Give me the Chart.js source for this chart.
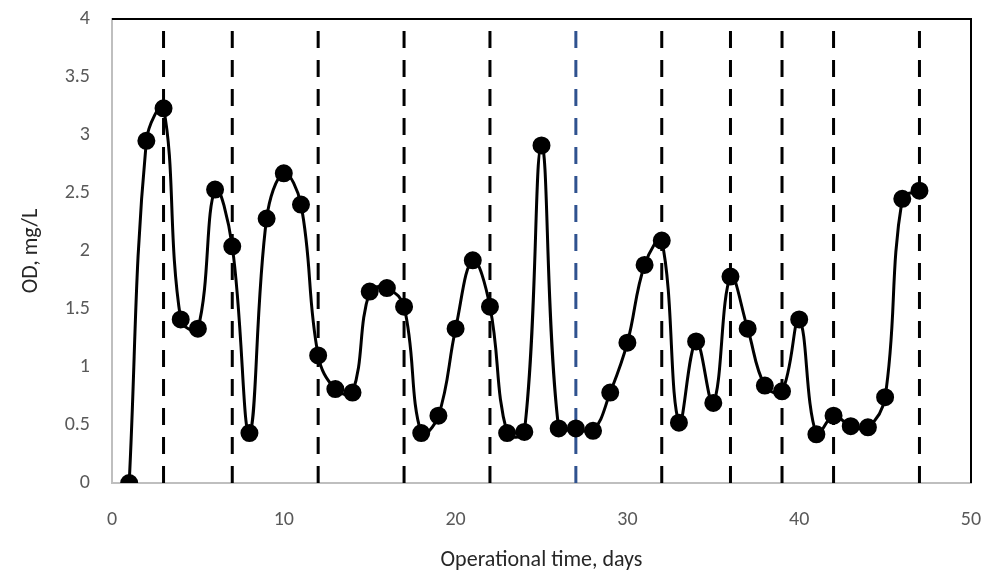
<!DOCTYPE html>
<html>
<head>
<meta charset="utf-8">
<script src="https://cdn.jsdelivr.net/npm/chart.js@4/dist/chart.umd.min.js"></script>
<style>
  html, body { margin: 0; padding: 0; background: #fff; }
  #wrap { width: 990px; height: 576px; }
</style>
</head>
<body>
<div id="wrap"><canvas id="odChart"></canvas></div>
<script>
// Data
const days = [1, 2, 3, 4, 5, 6, 7, 8, 9, 10, 11, 12, 13, 14, 15, 16, 17, 18, 19, 20, 21, 22, 23, 24,
    25, 26, 27, 28, 29, 30, 31, 32, 33, 34, 35, 36, 37, 38, 39, 40, 41, 42, 43, 44, 45, 46, 47];
const odValues = [0, 2.95, 3.23, 1.41, 1.33, 2.53, 2.04, 0.43, 2.28, 2.67, 2.40, 1.10, 0.81, 0.78,
    1.65, 1.68, 1.52, 0.43, 0.58, 1.33, 1.92, 1.52, 0.43, 0.44, 2.91, 0.47, 0.47, 0.45, 0.78,
    1.21, 1.88, 2.09, 0.52, 1.22, 0.69, 1.78, 1.33, 0.84, 0.79, 1.41, 0.42, 0.58, 0.49, 0.48,
    0.74, 2.45, 2.52];
// Phase change markers (day 27 drawn in blue)
const phaseDays = [3, 7, 12, 17, 22, 27, 32, 36, 39, 42, 47];
const bluePhaseDay = 27;
const phaseLineTop = 3.9;

const xTicks = [0, 10, 20, 30, 40, 50];
const yTicks = [0, 0.5, 1, 1.5, 2, 2.5, 3, 3.5, 4];

const fontFamily = 'Carlito, "Liberation Sans", Arial, sans-serif';

// Build datasets
const datasets = [{
    label: 'OD',
    data: days.map((d, i) => ({ x: d, y: odValues[i] })),
    showLine: true,
    borderColor: '#000',
    backgroundColor: '#000',
    borderWidth: 3,
    tension: 0.4,
    pointRadius: 7.5,
    pointHoverRadius: 7.5,
    order: 0
}];

phaseDays.forEach(function(d) {
    const color = d === bluePhaseDay ? '#2f528f' : '#000';
    datasets.push({
        label: 'phase ' + d,
        data: [{ x: d, y: 0 }, { x: d, y: phaseLineTop }],
        showLine: true,
        borderColor: color,
        borderWidth: 3,
        borderDash: [17, 12],
        pointRadius: 0,
        order: 1
    });
});

// Draw the black top/right frame of the plot area
const frameBorder = {
    id: 'frameBorder',
    afterDatasetsDraw(chart) {
        const { ctx, chartArea } = chart;
        ctx.save();
        ctx.strokeStyle = '#000';
        ctx.lineWidth = 2;
        ctx.beginPath();
        ctx.moveTo(chartArea.left, chartArea.top);
        ctx.lineTo(chartArea.right, chartArea.top);
        ctx.lineTo(chartArea.right, chartArea.bottom);
        ctx.stroke();
        ctx.restore();
    }
};

new Chart(document.getElementById('odChart').getContext('2d'), {
    type: 'scatter',
    data: { datasets: datasets },
    options: {
        responsive: true,
        maintainAspectRatio: false,
        animation: false,
        layout: { padding: { left: 0, right: 19, top: 19, bottom: 0 } },
        plugins: {
            legend: { display: false },
            tooltip: { enabled: false }
        },
        scales: {
            x: {
                type: 'linear',
                min: 0,
                max: 50,
                afterBuildTicks: axis => { axis.ticks = xTicks.map(v => ({ value: v })); },
                afterFit: axis => {
                    axis.height = 93;
                    axis.paddingLeft = 0;
                    axis.paddingRight = 0;
                },
                grid: { display: false, drawTicks: false },
                border: { color: '#bfbfbf', width: 2 },
                ticks: {
                    color: '#595959',
                    padding: 25,
                    callback: v => String(v),
                    font: { family: fontFamily, size: 20 }
                },
                title: {
                    display: true,
                    text: 'Operational time, days',
                    color: '#262626',
                    padding: { top: 0, bottom: 2 },
                    font: { family: fontFamily, size: 22 }
                }
            },
            y: {
                min: 0,
                max: 4,
                afterBuildTicks: axis => { axis.ticks = yTicks.map(v => ({ value: v })); },
                afterFit: axis => {
                    axis.width = 112;
                    axis.paddingTop = 0;
                    axis.paddingBottom = 0;
                },
                grid: { display: false, drawTicks: false },
                border: { color: '#bfbfbf', width: 2 },
                ticks: {
                    color: '#595959',
                    padding: 22,
                    callback: v => String(v),
                    font: { family: fontFamily, size: 20 }
                },
                title: {
                    display: true,
                    text: 'OD, mg/L',
                    color: '#262626',
                    padding: { top: 18, bottom: 0 },
                    font: { family: fontFamily, size: 22 }
                }
            }
        }
    },
    plugins: [frameBorder]
});
</script>
</body>
</html>
